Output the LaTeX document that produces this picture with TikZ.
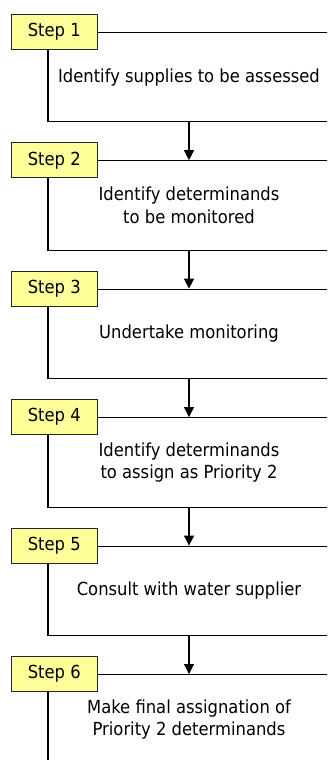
\documentclass[tikz,border=0pt]{standalone}
\usepackage{fontspec}
\setmainfont[FakeStretch=0.91]{DejaVu Sans}
\usetikzlibrary{arrows.meta}
\definecolor{stepyellow}{HTML}{FFFF99}
\begin{document}
\begin{tikzpicture}[x=1pt,y=-1pt,
  frame/.style={draw=black,line width=1.1pt,minimum width=282pt,minimum height=89.5pt,inner sep=0pt,align=center,font=\fontsize{18}{22.5}\selectfont},
  stepbox/.style={draw=black!85,fill=stepyellow,line width=0.9pt,minimum width=86.7pt,minimum height=35pt,inner sep=0pt,font=\fontsize{18}{20}\selectfont},
  flow/.style={line width=1.1pt,-{Triangle[width=10pt,length=10pt]}}]
\useasboundingbox (0,0) rectangle (327,760);
\clip (0,0) rectangle (327,760);
\node[frame] (f1) at (189,77.05) {Identify supplies to be assessed};
\node[frame] (f2) at (189,205.5) {Identify determinands\\to be monitored};
\node[frame] (f3) at (189,333.95) {Undertake monitoring};
\node[frame] (f4) at (189,462.4) {Identify determinands\\to assign as Priority 2};
\node[frame] (f5) at (189,590.85) {Consult with water supplier};
\node[frame] (f6) at (189,719.3) {Make final assignation of\\Priority 2 determinands};
\draw[flow] (f1.south) -- (f2.north);
\draw[flow] (f2.south) -- (f3.north);
\draw[flow] (f3.south) -- (f4.north);
\draw[flow] (f4.south) -- (f5.north);
\draw[flow] (f5.south) -- (f6.north);
\node[stepbox] (s1) at (54.3,31.8) {Step 1};
\node[stepbox] (s2) at (54.3,160.25) {Step 2};
\node[stepbox] (s3) at (54.3,288.7) {Step 3};
\node[stepbox] (s4) at (54.3,417.15) {Step 4};
\node[stepbox] (s5) at (54.3,545.6) {Step 5};
\node[stepbox] (s6) at (54.3,674.05) {Step 6};
\end{tikzpicture}
\end{document}
